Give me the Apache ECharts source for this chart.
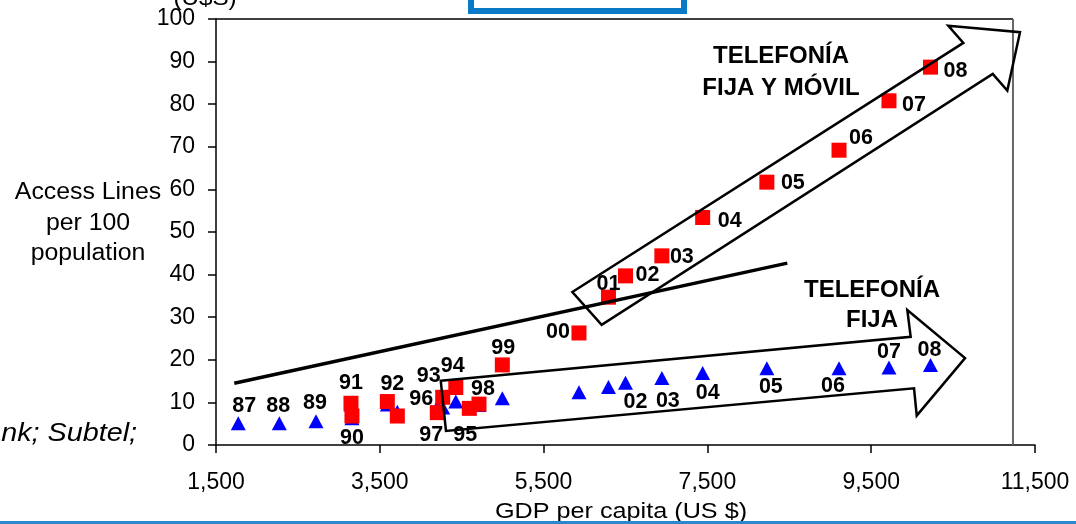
<!DOCTYPE html>
<html><head><meta charset="utf-8">
<script src="https://cdn.jsdelivr.net/npm/echarts@6/dist/echarts.min.js"></script>
<style>html,body{margin:0;padding:0;background:#fff;overflow:hidden}#c{width:1076px;height:524px}</style>
</head><body><div id="c"></div>
<script>
// ---- data ----
const years = ['87','88','89','90','91','92','93','94','95','96','97','98','99','00','01','02','03','04','05','06','07','08'];
const gdpPerCapita = [1772,2273,2721,3160,3148,3592,4268,4428,4593,3714,4202,4711,4996,5932,6292,6500,6944,7442,8226,9107,9717,10224];
const fixedLines = [5.1,5.1,5.6,6.3,9.5,9.5,8.8,10.2,8.7,7.8,9.0,9.4,11.0,12.4,13.6,14.6,15.7,16.9,18.0,18.0,18.2,18.8];
const fixedMobileLines = [null,null,null,6.8,9.8,10.2,11.2,13.5,8.6,6.8,7.6,9.6,18.8,26.3,34.7,39.7,44.4,53.4,61.7,69.2,80.8,88.7];
const xTickValues = [1500,3500,5500,7500,9500,11500];
const yTickValues = [0,10,20,30,40,50,60,70,80,90,100];

// ---- annotation shapes (data coordinates) ----
const trendLine = [[1723,14.5],[8476,42.7]];
const arrowFixedMobile = [[5851,35.9],[10625,94.4],[10442,98.4],[11317,96.9],[11162,83.2],[10984,87.1],[6209,28.2]];
const arrowFixed = [[4244,15.1],[9982,25.4],[9941,31.7],[10646,20.4],[10056,6.9],[10023,13.3],[4308,3.3]];
const frameRightX = 11231;

// ---- label layout (pixel offsets of year labels) ----
const fixedLabelOffsets = {'87':[6,-17],'88':[-1,-17],'89':[-1,-18],'02':[10,19],'03':[6,23],'04':[5,20],'05':[4,19],'06':[-6,18],'07':[0,-15],'08':[-1,-15]};
const fixedMobileLabelOffsets = {'90':[0,22],'91':[0,-20],'92':[5,-17],'93':[-14,-21],'94':[-3,-21],'95':[-4,27],'96':[24,-17],'97':[-6,22],'98':[4,-15],'99':[1,-17],'00':[-21,-1],'01':[0,-13],'02':[22,-1],'03':[20,1],'04':[27,4],'05':[26,1],'06':[22,-12],'07':[25,4],'08':[25,4]};

const FONT = "'Liberation Sans', Arial, Helvetica, sans-serif";
const labelStyle = {fontFamily: FONT, fontWeight: 'bold', fontSize: 21.5, color: '#000', opacity: 1};

function buildData(values, offsets) {
  const out = [];
  years.forEach((yr, i) => {
    if (values[i] == null) return;
    const off = offsets[yr];
    out.push({
      value: [gdpPerCapita[i], values[i]],
      label: off ? Object.assign({show: true, position: 'inside', offset: off, formatter: yr}, labelStyle) : {show: false}
    });
  });
  return out;
}

function fmtThousands(v) { return String(v).replace(/\B(?=(\d{3})+(?!\d))/g, ','); }

const chart = echarts.init(document.getElementById('c'), null, {renderer: 'canvas'});
const option = {
  backgroundColor: '#fff',
  animation: false,
  grid: {left: 216, right: 41, top: 19, bottom: 79, containLabel: false, outerBoundsMode: 'none'},
  xAxis: {
    type: 'value', min: 1500, max: 11500,
    splitLine: {show: false},
    axisLine: {show: true, lineStyle: {color: '#000', width: 1.5}},
    axisTick: {show: true, inside: false, length: 8, customValues: xTickValues, lineStyle: {color: '#000', width: 1.5}},
    axisLabel: {customValues: xTickValues, formatter: v => fmtThousands(v), margin: 26, fontFamily: FONT, fontSize: 23, color: '#000', showMinLabel: true, showMaxLabel: true}
  },
  yAxis: {
    type: 'value', min: 0, max: 100, interval: 10,
    splitLine: {show: false},
    axisLine: {show: true, lineStyle: {color: '#000', width: 1.5}},
    axisTick: {show: true, inside: false, length: 8, lineStyle: {color: '#000', width: 1.5}},
    axisLabel: {margin: 21, fontFamily: FONT, fontSize: 23, color: '#000', formatter: v => String(v)}
  },
  series: [
    {
      name: 'Fixed', type: 'scatter', symbol: 'triangle', symbolSize: [15, 14],
      itemStyle: {color: '#0000ff', opacity: 1},
      emphasis: {disabled: true},
      data: buildData(fixedLines, fixedLabelOffsets), z: 2
    },
    {
      name: 'Fixed + Mobile', type: 'scatter', symbol: 'rect', symbolSize: 15,
      itemStyle: {color: '#ff0000', opacity: 1},
      emphasis: {disabled: true},
      data: buildData(fixedMobileLines, fixedMobileLabelOffsets), z: 3
    }
  ]
};
chart.setOption(option);

function toPx(pts) { return pts.map(p => chart.convertToPixel({gridIndex: 0}, p)); }

chart.setOption({
  graphic: [
    // plot frame (top & right)
    {type: 'polyline', z: 5, shape: {points: toPx([[1500,100],[frameRightX,100]])}, style: {stroke: '#000', lineWidth: 1.5, fill: null}},
    {type: 'polyline', z: 5, shape: {points: toPx([[frameRightX,100],[frameRightX,0]])}, style: {stroke: '#666', lineWidth: 2, fill: null}},
    // annotations
    {type: 'polyline', z: 10, shape: {points: toPx(trendLine)}, style: {stroke: '#000', lineWidth: 3.5, fill: null}},
    {type: 'polygon', z: 10, shape: {points: toPx(arrowFixedMobile)}, style: {stroke: '#000', lineWidth: 2.5, fill: null, lineJoin: 'miter'}},
    {type: 'polygon', z: 10, shape: {points: toPx(arrowFixed)}, style: {stroke: '#000', lineWidth: 2.5, fill: null, lineJoin: 'miter'}},
    {type: 'text', z: 11, style: {text: 'TELEFONÍA\nFIJA Y MÓVIL', x: 781, y: 72, align: 'center', verticalAlign: 'middle', fontFamily: FONT, fontWeight: 'bold', fontSize: 24, lineHeight: 32, fill: '#000'}},
    {type: 'text', z: 11, style: {text: 'TELEFONÍA\nFIJA', x: 872, y: 305, align: 'center', verticalAlign: 'middle', fontFamily: FONT, fontWeight: 'bold', fontSize: 24, lineHeight: 30, fill: '#000'}},
    // axis titles
    {type: 'text', z: 11, x: 88, y: 223.5, scaleX: 1.08, style: {text: 'Access Lines\nper 100\npopulation', x: 0, y: 0, align: 'center', verticalAlign: 'middle', fontFamily: FONT, fontSize: 23, lineHeight: 30.5, fill: '#000'}},
    {type: 'text', z: 11, x: 621, y: 512, scaleX: 1.12, style: {text: 'GDP per capita (US $)', x: 0, y: 0, align: 'center', verticalAlign: 'middle', fontFamily: FONT, fontSize: 22.5, fill: '#000'}},
    // slide fragments
    {type: 'text', z: 11, x: 205, y: -1, scaleX: 1.1, style: {text: '(U$S)', x: 0, y: 0, align: 'center', verticalAlign: 'middle', fontFamily: FONT, fontSize: 22, fill: '#000'}},
    {type: 'text', z: 11, x: 137, y: 434.5, scaleX: 1.15, style: {text: 'World Bank; Subtel;', x: 0, y: 0, align: 'right', verticalAlign: 'middle', fontFamily: FONT, fontStyle: 'italic', fontSize: 25, fill: '#000'}},
    {type: 'rect', z: 11, shape: {x: 471, y: -10, width: 213, height: 21}, style: {fill: null, stroke: '#0a79c6', lineWidth: 6}},
    {type: 'rect', z: 11, shape: {x: 0, y: 521, width: 1076, height: 3}, style: {fill: '#2a88d0'}}
  ]
});
</script>
</body></html>
